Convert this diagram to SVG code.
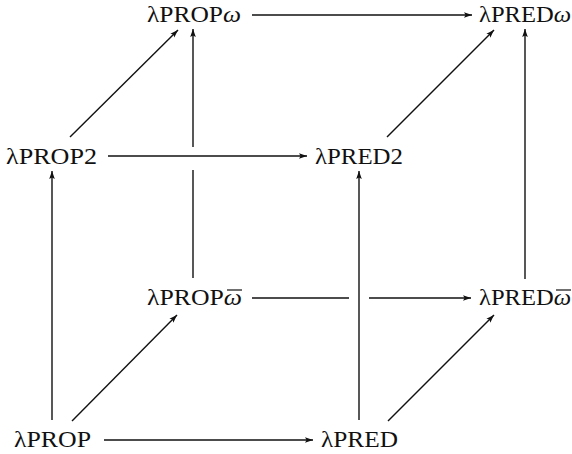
<svg xmlns="http://www.w3.org/2000/svg" width="572" height="454" viewBox="0 0 572 454">
<defs>
<marker id="ah" viewBox="0 0 10 10" refX="10" refY="5" markerWidth="8" markerHeight="8" markerUnits="userSpaceOnUse" orient="auto">
<path d="M0,1.5 L10,5 L0,8.5 L2,5 Z" fill="#111"/>
</marker>
<style>
text{font-family:"Liberation Serif","DejaVu Serif",serif;font-size:23px;fill:#111}
.it{font-style:italic}
.c{stroke:#111;stroke-width:1.4;fill:none}
.a{marker-end:url(#ah)}
.ob{stroke:#111;stroke-width:1.2}
</style>
</defs>
<rect width="572" height="454" fill="#fff"/>
<g id="connectors">
<line class="c a" x1="252" y1="15" x2="472" y2="15"/>
<line class="c a" x1="70" y1="137" x2="178" y2="30"/>
<line class="c" x1="193" y1="278" x2="193" y2="170"/>
<line class="c a" x1="193" y1="147" x2="193" y2="29"/>
<line class="c a" x1="108" y1="156" x2="307" y2="156"/>
<line class="c a" x1="387" y1="137" x2="494" y2="30"/>
<line class="c a" x1="525" y1="279" x2="525" y2="29"/>
<line class="c a" x1="52" y1="420" x2="52" y2="171"/>
<line class="c a" x1="72" y1="421" x2="177" y2="315"/>
<line class="c" x1="252" y1="298" x2="349" y2="298"/>
<line class="c a" x1="369" y1="298" x2="471" y2="298"/>
<line class="c a" x1="359" y1="420" x2="359" y2="171"/>
<line class="c a" x1="388" y1="421" x2="494" y2="315"/>
<line class="c a" x1="104" y1="440" x2="313" y2="440"/>
</g>
<g id="n-propomega"><text font-family="Liberation Serif, DejaVu Serif, serif" x="147" y="22" textLength="94" lengthAdjust="spacingAndGlyphs">λPROP<tspan class="it">ω</tspan></text></g>
<g id="n-predomega"><text font-family="Liberation Serif, DejaVu Serif, serif" x="479" y="22" textLength="92" lengthAdjust="spacingAndGlyphs">λPRED<tspan class="it">ω</tspan></text></g>
<g id="n-prop2"><text font-family="Liberation Serif, DejaVu Serif, serif" x="6" y="164" textLength="91" lengthAdjust="spacingAndGlyphs">λPROP2</text></g>
<g id="n-pred2"><text font-family="Liberation Serif, DejaVu Serif, serif" x="315" y="164" textLength="88" lengthAdjust="spacingAndGlyphs">λPRED2</text></g>
<g id="n-propomegabar"><text font-family="Liberation Serif, DejaVu Serif, serif" x="147" y="305" textLength="95" lengthAdjust="spacingAndGlyphs">λPROP<tspan class="it">ω</tspan></text><line class="ob" x1="227" y1="290" x2="242" y2="290"/></g>
<g id="n-predomegabar"><text font-family="Liberation Serif, DejaVu Serif, serif" x="479" y="305" textLength="92" lengthAdjust="spacingAndGlyphs">λPRED<tspan class="it">ω</tspan></text><line class="ob" x1="556" y1="290" x2="571" y2="290"/></g>
<g id="n-prop"><text font-family="Liberation Serif, DejaVu Serif, serif" x="14" y="447" textLength="77" lengthAdjust="spacingAndGlyphs">λPROP</text></g>
<g id="n-pred"><text font-family="Liberation Serif, DejaVu Serif, serif" x="321" y="447" textLength="77" lengthAdjust="spacingAndGlyphs">λPRED</text></g>
</svg>
